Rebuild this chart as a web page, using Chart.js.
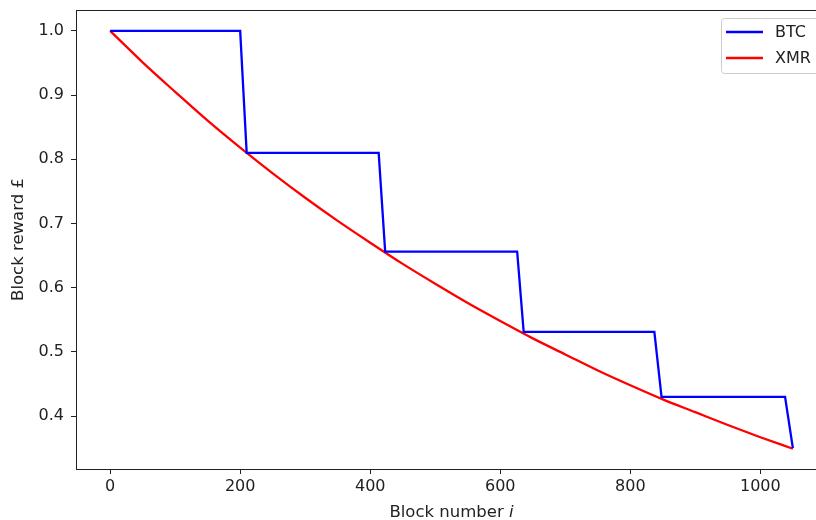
<!DOCTYPE html>
<html>
<head>
<meta charset="utf-8">
<script src="https://cdn.jsdelivr.net/npm/chart.js@4"></script>
<style>
  html, body { margin: 0; padding: 0; background: #fff; overflow: hidden; }
  #wrap { width: 840px; height: 520px; }
</style>
</head>
<body>
<div id="wrap"><canvas id="rewardChart" width="840" height="520"></canvas></div>
<script>
// BTC: halving steps (block number, reward)
const btcBlocks = [0, 200, 210, 413, 423, 626, 636, 837, 848, 1038, 1050];
const btcReward = [1.0, 1.0, 0.81, 0.81, 0.656, 0.656, 0.531, 0.531, 0.43, 0.43, 0.35];

const xmrBlocks = [0, 50, 100, 150, 200, 250, 300, 350, 400, 450, 500, 550,
                   600, 650, 700, 750, 800, 850, 900, 950, 1000, 1050];
const xmrReward = [1.0, 0.951, 0.905, 0.860, 0.818, 0.778, 0.740, 0.704, 0.670, 0.637, 0.606, 0.576,
                   0.548, 0.521, 0.496, 0.471, 0.448, 0.426, 0.406, 0.386, 0.367, 0.349];

const xTicks = [0, 200, 400, 600, 800, 1000];
const yTicks = [0.4, 0.5, 0.6, 0.7, 0.8, 0.9, 1.0];

const FONT = 'DejaVu Sans';
const FSIZE = 16;
const TSIZE = 16.5;

const toPoints = (xs, ys) => xs.map((x, i) => ({ x: x, y: ys[i] }));

// frame, legend and axis titles drawn the matplotlib way
const mplLook = {
    id: 'mplLook',
    afterDraw(chart) {
        const ctx = chart.ctx;
        const a = chart.chartArea;
        ctx.save();
        ctx.strokeStyle = '#222';
        ctx.lineWidth = 1;
        ctx.strokeRect(Math.round(a.left) + 0.5, Math.round(a.top) + 0.5,
                       Math.round(a.right - a.left), Math.round(a.bottom - a.top));

        // legend box
        const bx = 721, by = 18, bw = 100, bh = 55;
        ctx.fillStyle = 'rgba(255,255,255,0.8)';
        ctx.strokeStyle = '#cccccc';
        ctx.beginPath();
        ctx.roundRect(bx + 0.5, by + 0.5, bw, bh, 3);
        ctx.fill();
        ctx.stroke();
        ctx.font = FSIZE + 'px "' + FONT + '"';
        ctx.textBaseline = 'middle';
        chart.data.datasets.forEach((ds, i) => {
            const ly = by + 14 + i * 26;
            ctx.strokeStyle = ds.borderColor;
            ctx.lineWidth = ds.borderWidth;
            ctx.beginPath();
            ctx.moveTo(bx + 5, ly);
            ctx.lineTo(bx + 42, ly);
            ctx.stroke();
            ctx.fillStyle = '#222';
            ctx.textAlign = 'left';
            ctx.fillText(ds.label, bx + 54, ly + 1);
        });

        // x title with italic i
        const xMid = (a.left + a.right) / 2;
        const t1 = 'Block number ';
        const t2 = 'i';
        ctx.font = TSIZE + 'px "' + FONT + '"';
        const w1 = ctx.measureText(t1).width;
        ctx.font = 'italic ' + TSIZE + 'px "' + FONT + '"';
        const w2 = ctx.measureText(t2).width;
        let sx = xMid - (w1 + w2) / 2;
        ctx.textAlign = 'left';
        ctx.textBaseline = 'middle';
        ctx.font = TSIZE + 'px "' + FONT + '"';
        ctx.fillText(t1, sx, 513);
        ctx.font = 'italic ' + TSIZE + 'px "' + FONT + '"';
        ctx.fillText(t2, sx + w1, 513);

        // y title
        ctx.save();
        ctx.translate(19, (a.top + a.bottom) / 2);
        ctx.rotate(-Math.PI / 2);
        ctx.textAlign = 'center';
        ctx.font = TSIZE + 'px "' + FONT + '"';
        ctx.fillText('Block reward £', 0, 0);
        ctx.restore();
        ctx.restore();
    }
};

const ctx = document.getElementById('rewardChart').getContext('2d');

new Chart(ctx, {
    type: 'line',
    data: {
        datasets: [{
            label: 'BTC',
            data: toPoints(btcBlocks, btcReward),
            borderColor: '#0000ff',
            borderWidth: 2.3,
            pointRadius: 0,
            tension: 0
        }, {
            label: 'XMR',
            data: toPoints(xmrBlocks, xmrReward),
            borderColor: '#ff0000',
            borderWidth: 2.3,
            pointRadius: 0,
            cubicInterpolationMode: 'monotone'
        }]
    },
    options: {
        responsive: false,
        animation: false,
        layout: { padding: { top: 10, right: 13, left: 0, bottom: 0 } },
        plugins: {
            legend: { display: false },
            tooltip: { enabled: false }
        },
        scales: {
            x: {
                type: 'linear',
                min: -52.5,
                max: 1102.5,
                afterBuildTicks: (s) => { s.ticks = xTicks.map(v => ({ value: v })); },
                afterFit: (s) => { s.height = 51; s.paddingLeft = 0; s.paddingRight = 0; },
                grid: { drawOnChartArea: false, drawTicks: true, tickLength: 5, tickColor: '#222' },
                border: { display: false },
                ticks: {
                    color: '#222',
                    padding: 3,
                    maxRotation: 0,
                    font: { family: FONT, size: FSIZE },
                    callback: (v) => String(v)
                }
            },
            y: {
                type: 'linear',
                min: 0.3175,
                max: 1.0325,
                afterBuildTicks: (s) => { s.ticks = yTicks.map(v => ({ value: v })); },
                afterFit: (s) => { s.width = 76; s.paddingTop = 0; s.paddingBottom = 0; },
                grid: { drawOnChartArea: false, drawTicks: true, tickLength: 5, tickColor: '#222' },
                border: { display: false },
                ticks: {
                    color: '#222',
                    padding: 7,
                    font: { family: FONT, size: FSIZE },
                    callback: (v) => v.toFixed(1)
                }
            }
        }
    },
    plugins: [mplLook]
});
</script>
</body>
</html>
